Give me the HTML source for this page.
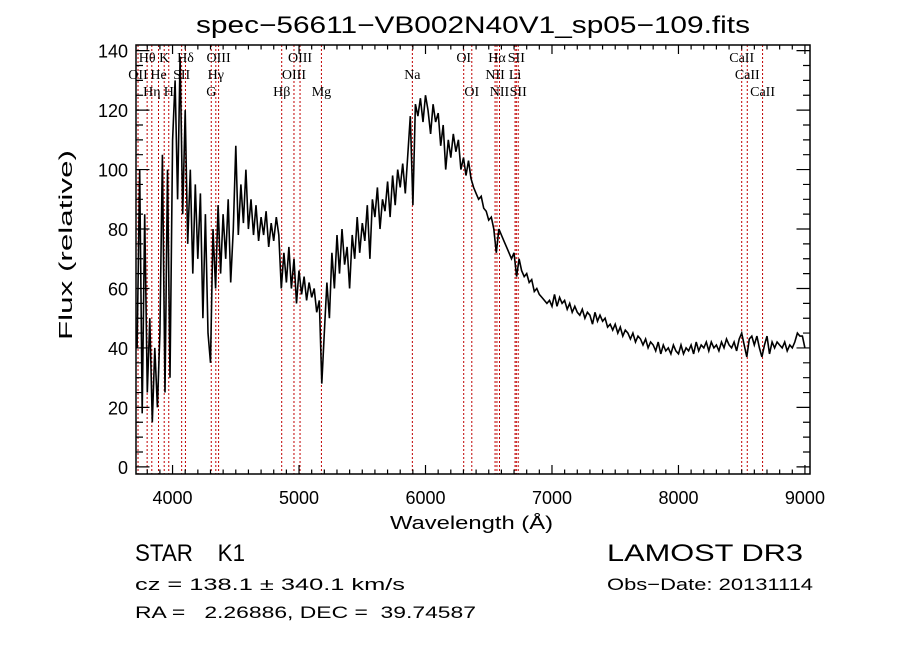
<!DOCTYPE html>
<html><head><meta charset="utf-8"><style>
html,body{margin:0;padding:0;background:#fff;}
svg{display:block;}
text{font-family:"Liberation Sans",sans-serif;fill:#000;white-space:pre;}
.lbl{font-family:"Liberation Serif",serif;font-size:14px;}
</style></head><body>
<svg id="chart" width="900" height="649" viewBox="0 0 900 649" xmlns="http://www.w3.org/2000/svg" xml:space="preserve">
<rect width="900" height="649" fill="#fff"/>
<text x="196" y="33" font-size="24" textLength="554" lengthAdjust="spacingAndGlyphs">spec−56611−VB002N40V1_sp05−109.fits</text>
<g id="lines"></g>
<g id="spec"></g>
<g id="axes"></g>
<g id="labels"></g>
<text x="390" y="529" font-size="18" textLength="163" lengthAdjust="spacingAndGlyphs">Wavelength (Å)</text>
<text transform="translate(72,340) rotate(-90)" font-size="18" textLength="190" lengthAdjust="spacingAndGlyphs">Flux (relative)</text>
<text x="135" y="561" font-size="24" textLength="110" lengthAdjust="spacingAndGlyphs">STAR    K1</text>
<text x="607" y="561" font-size="24" textLength="196" lengthAdjust="spacingAndGlyphs">LAMOST DR3</text>
<text x="135" y="590" font-size="17" textLength="270" lengthAdjust="spacingAndGlyphs">cz = 138.1 ± 340.1 km/s</text>
<text x="607" y="590" font-size="17" textLength="206" lengthAdjust="spacingAndGlyphs">Obs−Date: 20131114</text>
<text x="135" y="618" font-size="17" textLength="341" lengthAdjust="spacingAndGlyphs">RA =   2.26886, DEC =  39.74587</text>
</svg>
<script>
const waveStart = 3720;
const waveStep = 20;
const flux = [
40,100,18,85,25, 50,15,40,20,45, 105,25,100,30,110, 130,90,138,85,120,
75,100,65,95,70, 92,50,85,45,35, 80,60,88,65,85, 70,90,62,80,108,
78,95,82,100,80, 90,78,88,76,84, 78,86,74,82,76, 84,78,60,72,62,
74,60,70,55,66, 58,64,56,62,57, 60,52,56,28,45, 62,50,72,60,78,
65,80,68,74,60, 78,70,84,72,82, 76,88,70,90,84, 94,80,90,86,96,
84,98,88,100,94, 102,92,105,118,88, 122,118,124,116,125, 120,112,122,116,119,
108,115,100,110,104, 112,106,110,100,104, 98,103,97,94,92, 90,91,87,86,83,
84,80,72,80,78, 76,74,72,70,72, 64,70,66,64,65, 62,63,59,60,58,
57,56,55,56,54, 58,54,57,55,56, 53,55,52,54,52, 51,53,50,52,51,
48,52,49,51,49, 50,47,48,46,48, 45,47,44,46,45, 43,45,42,44,43,
41,43,40,42,41, 39,42,38,41,39, 40,38,41,39,38, 41,38,40,39,41,
38,42,39,41,40, 42,39,42,40,41, 39,42,40,43,41, 40,42,39,43,45,
41,37,43,44,41, 44,40,37,41,44, 38,42,40,42,41, 40,42,39,41,40,
42,45,44,44,40
];
const lineWaves = [3727,3799,3836,3889,3934,3970,4072,4102,4306,4342,4364,4863,4960,5008,5177,5896,6302,6366,6550,6565,6585,6708,6718,6733,8500,8544,8665];
const lineNames = ["OII","Hθ","Hη","He","K","H","SII","Hδ","G","Hγ","OIII","Hβ","OIII","OIII","Mg","Na","OI","OI","NII","Hα","NII","Li","SII","SII","CaII","CaII","CaII"];
const lineRows = [2,1,3,2,1,3,2,1,3,2,1,3,2,1,3,2,1,3,2,1,3,2,1,3,1,2,3];
const xTicks = [4000,5000,6000,7000,8000,9000];
const yTicks = [0,20,40,60,80,100,120,140];

const L=136,R=810,T=45,B=474, XMIN=3711, XMAX=9040, YMIN=-2.4, YMAX=141.9;
const xs = w => L + (w-XMIN)/(XMAX-XMIN)*(R-L);
const ys = f => B - (f-YMIN)/(YMAX-YMIN)*(B-T);
const NS="http://www.w3.org/2000/svg";
function mk(tag, parent){const e=document.createElementNS(NS,tag);parent.appendChild(e);return e;}

const gl=document.getElementById('lines');
lineWaves.forEach((w,i)=>{
  const l=mk('line',gl);
  
  
  l.setAttribute('x1',xs(w));l.setAttribute('x2',xs(w));l.setAttribute('y1',T);l.setAttribute('y2',B);
  l.setAttribute('stroke','#c00000');l.setAttribute('stroke-width','1');l.setAttribute('stroke-dasharray','2,2');
});
const glab=document.getElementById('labels');
lineWaves.forEach((w,i)=>{
  const t=mk('text',glab);
  
  
  t.setAttribute('class','lbl');
  t.setAttribute('x',xs(w));t.setAttribute('y',45+lineRows[i]*17);
  t.setAttribute('text-anchor','middle');
  t.textContent=lineNames[i];
});

const gs=document.getElementById('spec');
let pts=[];
flux.forEach((f,i)=>{const w=waveStart+i*waveStep;pts.push(xs(w).toFixed(1)+','+ys(f).toFixed(1));});
const pl=mk('polyline',gs);


pl.setAttribute('points',pts.join(' '));
pl.setAttribute('fill','none');pl.setAttribute('stroke','#000');pl.setAttribute('stroke-width','1.6');

const ga=document.getElementById('axes');
const fr=mk('rect',ga);


fr.setAttribute('x',L);fr.setAttribute('y',T);fr.setAttribute('width',R-L);fr.setAttribute('height',B-T);
fr.setAttribute('fill','none');fr.setAttribute('stroke','#000');fr.setAttribute('stroke-width','1.5');
let d='';
for(let w=3800;w<=9000;w+=100){const x=xs(w);const len=(w%1000===0)?9:4.5;d+=`M${x},${B}v${-len}M${x},${T}v${len}`;}
for(let f=0;f<=140;f+=5){const y=ys(f);const len=(f%20===0)?13.5:7;d+=`M${L},${y}h${len}M${R},${y}h${-len}`;}
const tk=mk('path',ga);


tk.setAttribute('d',d);tk.setAttribute('stroke','#000');tk.setAttribute('stroke-width','1.2');
xTicks.forEach(w=>{
  const t=mk('text',ga);
  
  
  t.setAttribute('x',xs(w));t.setAttribute('y',504);t.setAttribute('font-size','18');t.setAttribute('text-anchor','middle');
  t.textContent=w;
});
yTicks.forEach(f=>{
  const t=mk('text',ga);
  
  
  t.setAttribute('x',128);t.setAttribute('y',ys(f)+7);t.setAttribute('font-size','18');t.setAttribute('text-anchor','end');
  t.textContent=f;
});
</script>
</body></html>
